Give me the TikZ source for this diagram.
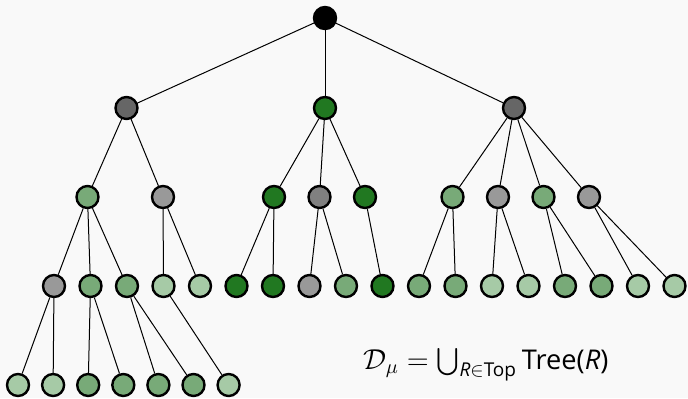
\documentclass[tikz,border=0pt]{standalone}
\usepackage{fontspec}
\setmainfont{Open Sans}
\usepackage{amsmath,amssymb}
\usetikzlibrary{positioning,backgrounds}
\definecolor{treePaper}{HTML}{F9F9F9}
\definecolor{treeDark}{HTML}{217821}
\definecolor{treeMid}{HTML}{78AA78}
\definecolor{treeLight}{HTML}{A6CAA6}
\definecolor{treeGreyDark}{HTML}{666666}
\definecolor{treeGreyMid}{HTML}{808080}
\definecolor{treeGreyLight}{HTML}{999999}
\tikzset{
  tree/vertex/.style={circle, draw=black, line width=1.2pt, minimum size=11pt,
    inner sep=0pt},
  tree/root/.style={tree/vertex, fill=black},
  tree/dark/.style={tree/vertex, fill=treeDark},
  tree/mid/.style={tree/vertex, fill=treeMid},
  tree/light/.style={tree/vertex, fill=treeLight},
  tree/greyDark/.style={tree/vertex, fill=treeGreyDark},
  tree/greyMid/.style={tree/vertex, fill=treeGreyMid},
  tree/grey/.style={tree/vertex, fill=treeGreyLight},
  tree/edge/.style={draw=black, line width=0.5pt},
  tree/formula/.style={font=\fontsize{13.6}{16}\selectfont, text=black},
}

\begin{document}
\begin{tikzpicture}[x=0.5pt, y=-0.5pt]
\fill[treePaper] (0,0) rectangle (688,398);
\useasboundingbox (0,0) rectangle (688,398);

% root and first level
\node[tree/root] (r) at (325,18) {};
\node[tree/greyDark] (a) at (126.5,108) {};
\node[tree/dark] (b) at (325,108) {};
\node[tree/greyDark] (c) at (514,108) {};

% second level
\node[tree/mid] (a1) at (87.5,197) {};
\node[tree/grey] (a2) at (163,197) {};
\node[tree/dark] (b1) at (274,197) {};
\node[tree/greyMid] (b2) at (319.5,197) {};
\node[tree/dark] (b3) at (365,197) {};
\node[tree/mid] (c1) at (452.5,197) {};
\node[tree/grey] (c2) at (498,197) {};
\node[tree/mid] (c3) at (543.5,197) {};
\node[tree/grey] (c4) at (589,197) {};

% third level, one row
\foreach \name/\kind [count=\i from 0] in {a11/grey, a12/mid, a13/mid, a21/light,
    a22/light, b11/dark, b12/dark, b21/grey, b22/mid, b31/dark, c11/mid,
    c12/mid, c21/light, c22/light, c31/mid, c32/mid, c41/light, c42/light}
  \node[tree/\kind] (\name) at ({54+36.5*\i},286) {};

% fourth level
\foreach \name/\kind [count=\i from 0] in {a111/light, a112/light, a121/mid,
    a122/mid, a131/mid, a132/mid, a211/light}
  \node[tree/\kind] (\name) at ({18+35.1*\i},385) {};

\foreach \p/\c in {r/a, r/b, r/c, a/a1, a/a2, b/b1, b/b2, b/b3,
    c/c1, c/c2, c/c3, c/c4, a1/a11, a1/a12, a1/a13, a2/a21, a2/a22,
    b1/b11, b1/b12, b2/b21, b2/b22, b3/b31, c1/c11, c1/c12, c2/c21, c2/c22,
    c3/c31, c3/c32, c4/c41, c4/c42, a11/a111, a11/a112, a12/a121, a12/a122,
    a13/a131, a13/a132, a21/a211}
  \draw[tree/edge] (\p) -- (\c);

\node[tree/formula] (union) at (486,365)
  {$\mathcal{D}_{\mu} = \bigcup_{\textit{R}\in\text{Top}} \text{Tree(\textit{R})}$};
\end{tikzpicture}
\end{document}
